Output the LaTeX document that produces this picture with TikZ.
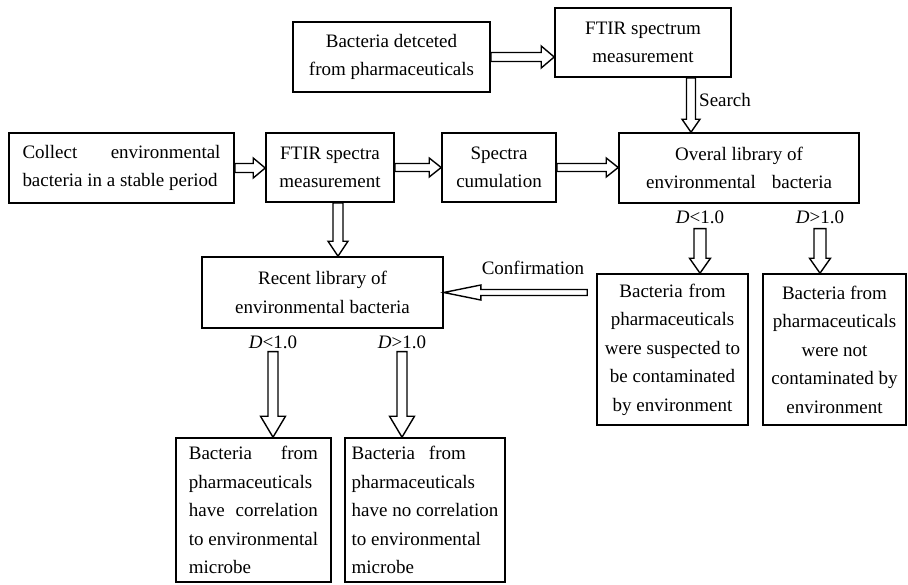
\documentclass[tikz,border=0pt]{standalone}
\usepackage{fontspec}
\setmainfont{Liberation Serif}
\usetikzlibrary{calc}
\newcommand{\hollowarrow}[5]{%
  \path (#1) coordinate (tail) (#2) coordinate (tip);
  \path ($(tip)!#5!(tail)$) coordinate (hb);
  \draw[hollowline] ($(tail)!#3!90:(tip)$) -- ($(hb)!#3!90:(tip)$) -- ($(hb)!#4!90:(tip)$) -- (tip)
    -- ($(hb)!#4!-90:(tip)$) -- ($(hb)!#3!-90:(tip)$) -- ($(tail)!#3!-90:(tip)$) -- cycle;}
\begin{document}
\begin{tikzpicture}[x=1pt, y=-1pt, line join=miter,
  box/.style={draw, line width=1.6pt, align=center, inner sep=0pt, font=\fontsize{19}{28.5}\selectfont},
  lbl/.style={inner sep=1pt, font=\fontsize{19}{28.5}\selectfont},
  hollowline/.style={draw, line width=1.4pt, fill=white}]
\useasboundingbox (0,0) rectangle (908,584);
\node[box, minimum width=197, minimum height=70] (det) at (391.5,57) {Bacteria detceted\\from pharmaceuticals};
\node[box, minimum width=176, minimum height=69] (ftirone) at (643,42.5) {FTIR spectrum\\measurement};
\node[box, minimum width=225, minimum height=70, align=left] (collect) at (121.5,168)
  {\makebox[198pt][l]{Collect\hfill environmental}\\bacteria in a stable period};
\node[box, minimum width=128, minimum height=69] (ftirtwo) at (330,167.5) {FTIR spectra\\measurement};
\node[box, minimum width=114, minimum height=69] (cumul) at (499,167.5) {Spectra\\cumulation};
\node[box, minimum width=240, minimum height=70] (overal) at (739,168) {Overal library of\\environmental\hspace{16pt}bacteria};
\node[box, minimum width=241, minimum height=71] (recent) at (322.5,292.5) {Recent library of\\environmental bacteria};
\node[box, minimum width=151, minimum height=151] (susp) at (672.5,349.5)
  {Bacteria\hspace{6pt}from\\pharmaceuticals\\were suspected to\\be contaminated\\by environment};
\node[box, minimum width=143, minimum height=151] (notc) at (834.5,349.5)
  {Bacteria from\\pharmaceuticals\\were not\\contaminated by\\environment};
\node[box, minimum width=155, minimum height=144, align=left] (corr) at (253.5,510)
  {\makebox[129pt][l]{Bacteria\hfill from}\\pharmaceuticals\\\makebox[129pt][l]{have\hfill correlation}\\to environmental\\microbe};
\node[box, minimum width=160, minimum height=144, align=left] (nocorr) at (425,510)
  {Bacteria\hspace{14pt}from\\pharmaceuticals\\have no correlation\\to environmental\\microbe};
\node[lbl, anchor=west] (search) at (698,100) {Search};
\node[lbl] (confirm) at (533,268) {Confirmation};
\node[lbl] (ovlt) at (700,217) {{\itshape D}<1.0};
\node[lbl] (ovgt) at (820,217) {{\itshape D}>1.0};
\node[lbl] (relt) at (273,342) {{\itshape D}<1.0};
\node[lbl] (regt) at (402,342) {{\itshape D}>1.0};
\coordinate (sx) at ($(ftirone.south)!.5!(overal.north)$);
\coordinate (dx) at ([xshift=8pt]ftirtwo.south);
\coordinate (confend) at ([xshift=-9pt]susp.west |- recent.east);
\hollowarrow{det.east}{det.east -| ftirone.west}{4.5pt}{11pt}{13pt}
\hollowarrow{collect.east}{collect.east -| ftirtwo.west}{4.5pt}{10pt}{12pt}
\hollowarrow{ftirtwo.east}{ftirtwo.east -| cumul.west}{4pt}{9.5pt}{12pt}
\hollowarrow{cumul.east}{cumul.east -| overal.west}{4pt}{9.5pt}{12pt}
\hollowarrow{sx |- ftirone.south}{sx |- overal.north}{4.5pt}{9pt}{13pt}
\hollowarrow{dx}{dx |- recent.north}{5pt}{10pt}{15pt}
\hollowarrow{confend}{recent.east}{3pt}{7.5pt}{37pt}
\hollowarrow{[yshift=-4pt]ovlt.south}{ovlt.south |- susp.north}{6pt}{10.5pt}{15pt}
\hollowarrow{[yshift=-4pt]ovgt.south}{ovgt.south |- notc.north}{6pt}{10.5pt}{15pt}
\hollowarrow{[yshift=-2pt]relt.south}{relt.south |- corr.north}{5pt}{12.5pt}{21pt}
\hollowarrow{[yshift=-2pt]regt.south}{regt.south |- nocorr.north}{5pt}{12.5pt}{21pt}
\end{tikzpicture}
\end{document}
